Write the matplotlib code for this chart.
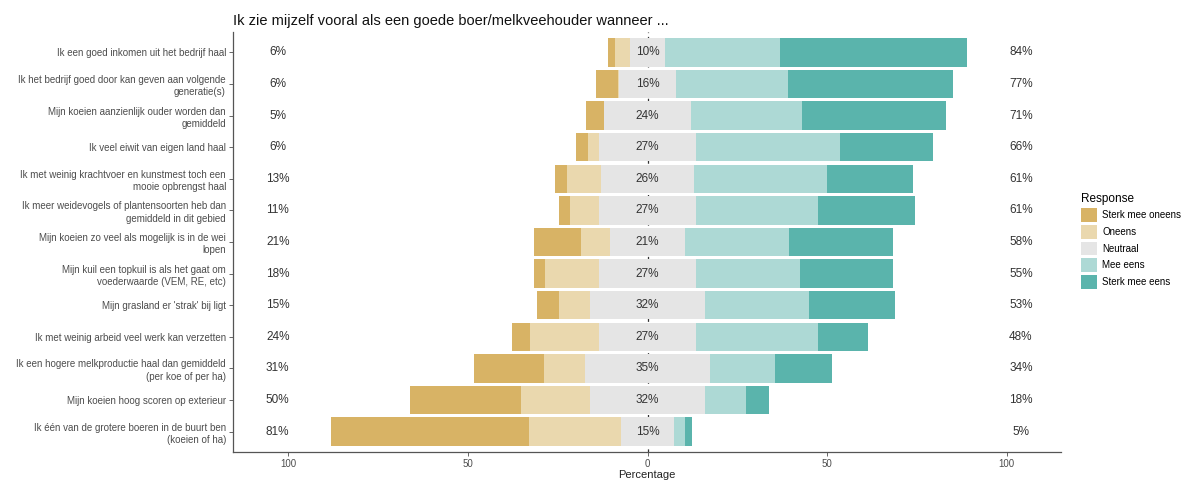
import numpy as np
import matplotlib
matplotlib.use('Agg')
import matplotlib.pyplot as plt
from matplotlib.patches import Patch

plt.rcParams['font.family'] = ['Liberation Sans', 'DejaVu Sans']

######################################################################
## Data
######################################################################

items = [
    'Ik een goed inkomen uit het bedrijf haal',
    'Ik het bedrijf goed door kan geven aan volgende\ngeneratie(s)',
    'Mijn koeien aanzienlijk ouder worden dan\ngemiddeld',
    'Ik veel eiwit van eigen land haal',
    'Ik met weinig krachtvoer en kunstmest toch een\nmooie opbrengst haal',
    'Ik meer weidevogels of plantensoorten heb dan\ngemiddeld in dit gebied',
    'Mijn koeien zo veel als mogelijk is in de wei\nlopen',
    'Mijn kuil een topkuil is als het gaat om\nvoederwaarde (VEM, RE, etc)',
    "Mijn grasland er 'strak' bij ligt",
    'Ik met weinig arbeid veel werk kan verzetten',
    'Ik een hogere melkproductie haal dan gemiddeld\n(per koe of per ha)',
    'Mijn koeien hoog scoren op exterieur',
    'Ik één van de grotere boeren in de buurt ben\n(koeien of ha)',
]

levels = ['Sterk mee oneens', 'Oneens', 'Neutraal', 'Mee eens', 'Sterk mee eens']

sterk_oneens = [2.0, 6.0, 5.0, 3.2, 3.4, 3.2, 13.0, 3.0, 6.2, 5.0, 19.5, 31.0, 55.0]
oneens       = [4.0, 0.3, 0.0, 3.2, 9.4, 8.0, 8.0, 15.0, 8.6, 19.2, 11.4, 19.2, 25.6]
neutraal     = [10.0, 16.0, 24.0, 27.0, 26.0, 27.0, 21.0, 27.0, 32.0, 27.0, 35.0, 32.0, 15.0]
mee_eens     = [32.0, 31.0, 31.0, 40.0, 37.0, 34.0, 29.0, 29.0, 29.0, 34.0, 18.0, 11.5, 3.0]
sterk_eens   = [52.0, 46.0, 40.0, 26.0, 24.0, 27.0, 29.0, 26.0, 24.0, 14.0, 16.0, 6.3, 1.8]

colors = ['#D8B365', '#EAD8AE', '#E5E5E5', '#ADD9D5', '#5AB4AC']

######################################################################
## Plot
######################################################################

so = np.array(sterk_oneens)
o = np.array(oneens)
n = np.array(neutraal)
me = np.array(mee_eens)
se = np.array(sterk_eens)
y = np.arange(len(items))
h = 0.9

fig = plt.figure(figsize=(11.94, 4.83), dpi=100)
ax = fig.add_axes([0.195, 0.064, 0.694, 0.87])

ax.axvline(0, color='#333333', lw=0.9, ls=(0, (2.5, 3)), zorder=0)

# negative side, from the centre outwards
ax.barh(y, -n / 2, height=h, color=colors[2], zorder=2)
ax.barh(y, -o, left=-n / 2, height=h, color=colors[1], zorder=2)
ax.barh(y, -so, left=-n / 2 - o, height=h, color=colors[0], zorder=2)
# positive side
ax.barh(y, n / 2, height=h, color=colors[2], zorder=2)
ax.barh(y, me, left=n / 2, height=h, color=colors[3], zorder=2)
ax.barh(y, se, left=n / 2 + me, height=h, color=colors[4], zorder=2)

txt = dict(fontsize=8.5, color='#333333', va='center', zorder=3)
for i in y:
    ax.text(-103, i, '{0:.0f}%'.format(so[i] + o[i]), ha='center', **txt)
    ax.text(0, i, '{0:.0f}%'.format(n[i]), ha='center', **txt)
    ax.text(104, i, '{0:.0f}%'.format(me[i] + se[i]), ha='center', **txt)

ax.set_xlim(-115.5, 115.3)
ax.set_ylim(len(items) - 0.35, -0.65)
ax.set_xticks([-100, -50, 0, 50, 100])
ax.set_xticklabels(['100', '50', '0', '50', '100'])
ax.set_yticks(y)
ax.set_yticklabels(items, fontsize=7, color='#4D4D4D', linespacing=1.3)
ax.tick_params(axis='x', labelsize=7, colors='#4D4D4D', length=3, width=0.6, pad=2)
ax.tick_params(axis='y', length=3, width=0.6, colors='#4D4D4D', pad=2)
ax.set_xlabel('Percentage', fontsize=8, color='#222222', labelpad=1)

for s in ['top', 'right']:
    ax.spines[s].set_visible(False)
for s in ['left', 'bottom']:
    ax.spines[s].set_color('#555555')
    ax.spines[s].set_linewidth(0.9)

ax.set_title('Ik zie mijzelf vooral als een goede boer/melkveehouder wanneer ...',
             loc='left', fontsize=10.5, color='#111111', pad=5)

handles = [Patch(facecolor=c, edgecolor='none', label=l) for c, l in zip(colors, levels)]
leg = fig.legend(handles=handles, title='Response', loc='upper left',
                 bbox_to_anchor=(0.898, 0.618), frameon=False, fontsize=7,
                 title_fontsize=8.5, handlelength=1.7, handleheight=1.8,
                 handletextpad=0.5, labelspacing=0.3)
leg._legend_box.align = 'left'

fig.savefig('out.png', dpi=100)
plt.close('all')
